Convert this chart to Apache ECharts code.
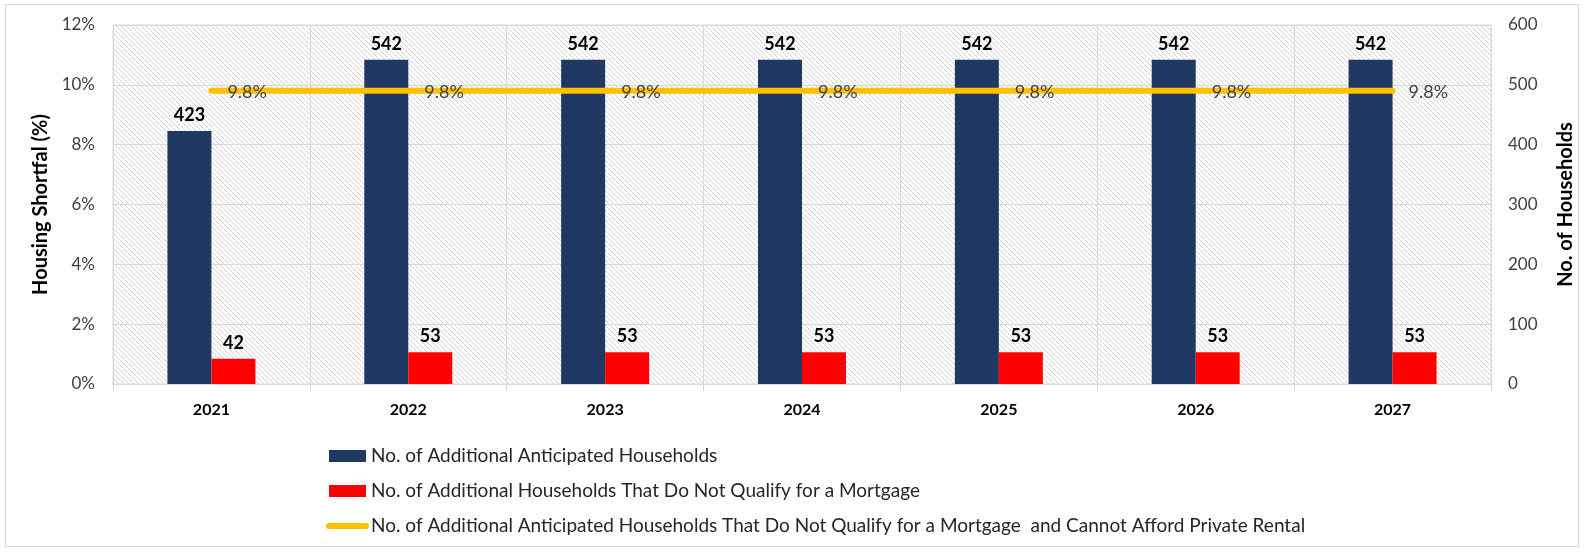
<!DOCTYPE html>
<html>
<head>
<meta charset="utf-8">
<script src="https://cdn.jsdelivr.net/npm/echarts@6/dist/echarts.min.js"></script>
<style>
  html, body { margin: 0; padding: 0; background: #fff; }
  #frame { position: absolute; left: 5px; top: 4px; width: 1574px; height: 543px; border: 1px solid #d9d9d9; box-sizing: border-box; }
  #chart { position: absolute; left: 0; top: 0; width: 1584px; height: 552px; }
</style>
</head>
<body>
<div id="frame"></div>
<div id="chart"></div>
<script>
const years = ['2021', '2022', '2023', '2024', '2025', '2026', '2027'];
const anticipated = [423, 542, 542, 542, 542, 542, 542];
const noMortgage = [42, 53, 53, 53, 53, 53, 53];
const shortfallPct = [9.8, 9.8, 9.8, 9.8, 9.8, 9.8, 9.8];
const pctTicks = [0, 2, 4, 6, 8, 10, 12];
const countTicks = [0, 100, 200, 300, 400, 500, 600];

const seriesNames = [
  'No. of Additional Anticipated Households',
  'No. of Additional Households That Do Not Qualify for a Mortgage',
  'No. of Additional Anticipated Households That Do Not Qualify for a Mortgage  and Cannot Afford Private Rental'
];

// hatched plot background, like the excel pattern fill
const makeHatch = () => {
  const c = document.createElement('canvas');
  c.width = 5;
  c.height = 5;
  const ctx = c.getContext('2d');
  ctx.fillStyle = '#ffffff';
  ctx.fillRect(0, 0, 5, 5);
  ctx.fillStyle = '#d4d4d4';
  for (let x = 0; x < 5; x++) {
    ctx.fillRect(x, x, 1, 1);
  }
  return c;
};

const font = 'Lato, "Open Sans", sans-serif';
const chart = echarts.init(document.getElementById('chart'));

chart.setOption({
  textStyle: { fontFamily: font },
  animation: false,
  grid: {
    left: 113, right: 82, top: 25, bottom: 168,
    show: true,
    backgroundColor: { image: makeHatch(), repeat: 'repeat' },
    borderColor: '#d9d9d9',
    borderWidth: 1
  },
  legend: {
    orient: 'vertical',
    left: 321,
    top: 440,
    itemWidth: 37,
    itemHeight: 12,
    itemGap: 13,
    textStyle: { fontSize: 19, color: '#262626', lineHeight: 22, fontFamily: font },
    data: [
      { name: seriesNames[0], icon: 'rect' },
      { name: seriesNames[1], icon: 'rect' },
      { name: seriesNames[2], itemStyle: { opacity: 0 }, lineStyle: { width: 6, cap: 'round' } }
    ]
  },
  xAxis: {
    type: 'category',
    data: years,
    axisLine: { lineStyle: { color: '#d9d9d9' } },
    axisTick: { show: true, length: 7, lineStyle: { color: '#d9d9d9' } },
    splitLine: { show: true, lineStyle: { color: '#d9d9d9' } },
    axisLabel: { color: '#000', fontWeight: 'bold', fontSize: 16, margin: 18, fontFamily: font }
  },
  yAxis: [
    {
      type: 'value',
      min: pctTicks[0],
      max: pctTicks[pctTicks.length - 1],
      interval: 2,
      name: 'Housing Shortfal (%)',
      nameLocation: 'middle',
      nameRotate: 90,
      nameGap: 60,
      nameTextStyle: { fontSize: 20, fontWeight: 'bold', color: '#000', fontFamily: font },
      axisLabel: { formatter: '{value}%', fontSize: 17, color: '#404040', margin: 18, fontFamily: font },
      splitLine: { lineStyle: { color: '#d9d9d9' } },
      axisLine: { show: false },
      axisTick: { show: false }
    },
    {
      type: 'value',
      min: countTicks[0],
      max: countTicks[countTicks.length - 1],
      interval: 100,
      name: 'No. of Households',
      nameLocation: 'middle',
      nameRotate: 90,
      nameGap: 65,
      nameTextStyle: { fontSize: 20, fontWeight: 'bold', color: '#000', fontFamily: font },
      axisLabel: { fontSize: 17, color: '#404040', margin: 17, fontFamily: font },
      splitLine: { show: false },
      axisLine: { show: false },
      axisTick: { show: false }
    }
  ],
  series: [
    {
      name: seriesNames[0],
      type: 'bar',
      yAxisIndex: 1,
      data: anticipated,
      barWidth: 44,
      barGap: '0%',
      itemStyle: { color: '#203864' },
      label: { show: true, position: 'top', distance: 7, color: '#000', fontWeight: 'bold', fontSize: 18, fontFamily: font }
    },
    {
      name: seriesNames[1],
      type: 'bar',
      yAxisIndex: 1,
      data: noMortgage,
      barWidth: 44,
      barGap: '0%',
      itemStyle: { color: '#ff0000' },
      label: { show: true, position: 'top', distance: 7, color: '#000', fontWeight: 'bold', fontSize: 18, fontFamily: font }
    },
    {
      name: seriesNames[2],
      type: 'line',
      yAxisIndex: 0,
      data: shortfallPct,
      symbol: 'circle',
      symbolSize: 0,
      z: 5,
      lineStyle: { color: '#ffc000', width: 6, cap: 'round' },
      itemStyle: { color: '#ffc000' },
      label: {
        show: true, position: 'right', distance: 16, offset: [0, 1],
        formatter: p => p.value + '%',
        color: '#404040', fontSize: 18, fontFamily: font
      }
    }
  ]
});
</script>
</body>
</html>
